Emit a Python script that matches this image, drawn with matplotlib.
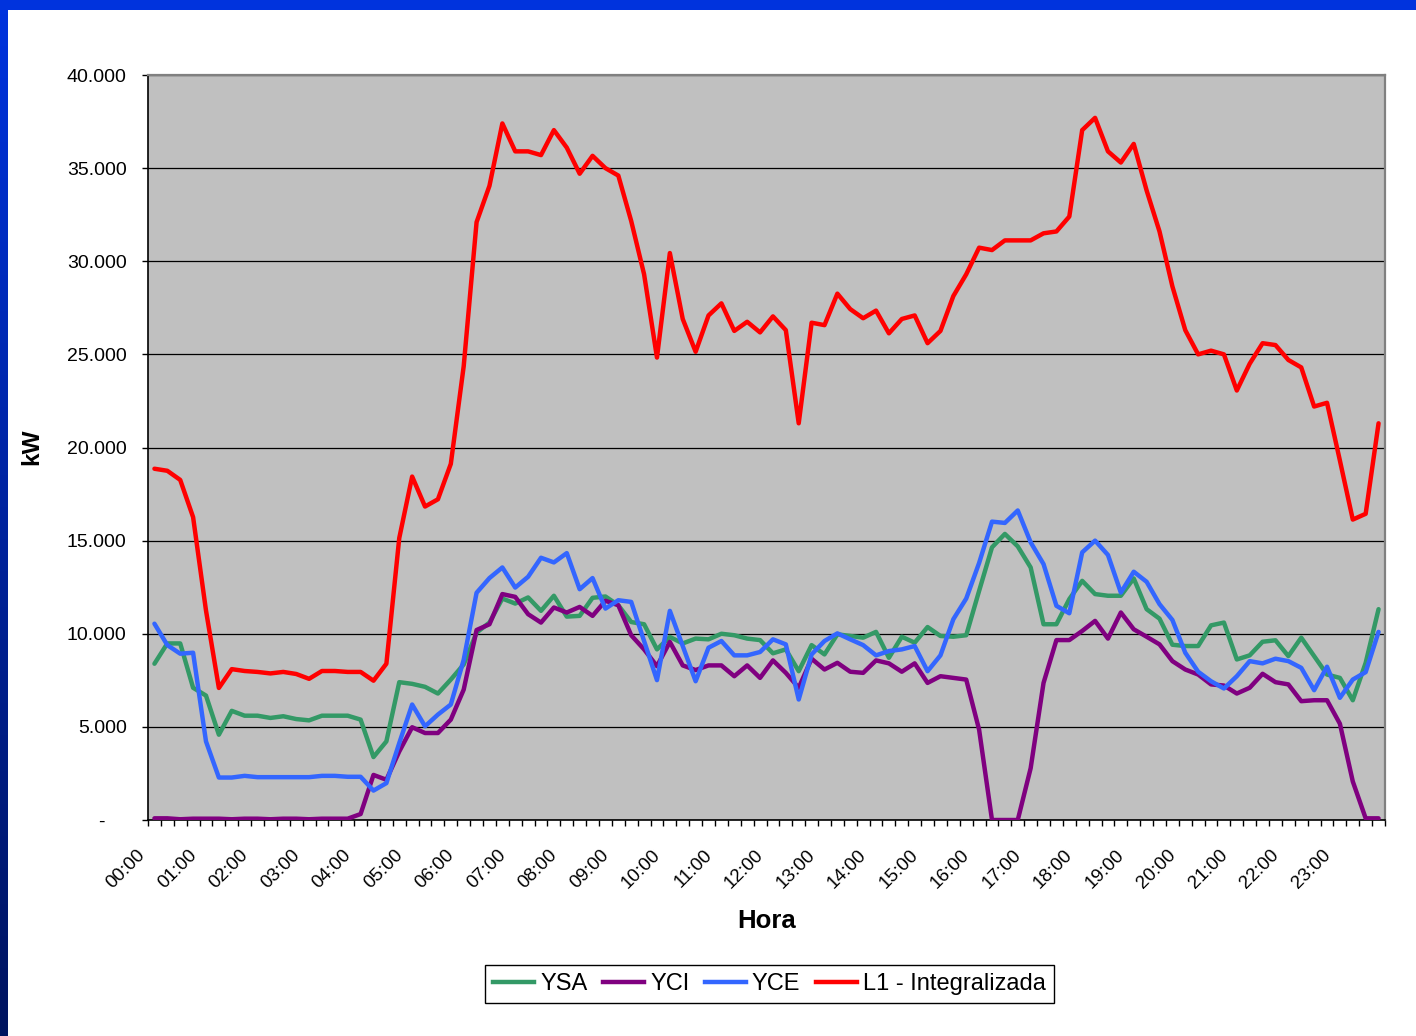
import numpy as np
import matplotlib
matplotlib.use("Agg")
import matplotlib.pyplot as plt
from matplotlib.patches import Rectangle
from matplotlib.transforms import ScaledTranslation
from matplotlib.lines import Line2D

plt.rcParams['font.family'] = ['Liberation Sans', 'DejaVu Sans']

# ---- data (kW, thousands) ----
times = [f"{h:02d}:{m:02d}" for h in range(24) for m in (0, 15, 30, 45)]

ysa = [8.39, 9.48, 9.48, 7.10, 6.68, 4.58, 5.86, 5.60, 5.60, 5.48, 5.57, 5.42, 5.35, 5.60, 5.60, 5.60, 5.39, 3.38, 4.22, 7.40, 7.31, 7.15, 6.79, 7.54,
       8.35, 10.06, 10.60, 11.89, 11.62, 11.95, 11.23, 12.04, 10.92, 10.96, 11.93, 12.00, 11.53, 10.63, 10.51, 9.16, 9.83, 9.48, 9.74, 9.70, 10.00, 9.92, 9.74, 9.66,
       8.95, 9.16, 7.99, 9.39, 8.89, 9.97, 9.88, 9.79, 10.10, 8.71, 9.84, 9.52, 10.36, 9.88, 9.84, 9.92, 12.30, 14.64, 15.36, 14.69, 13.56, 10.51, 10.51, 11.86,
       12.84, 12.13, 12.04, 12.04, 12.97, 11.32, 10.81, 9.41, 9.34, 9.34, 10.45, 10.60, 8.62, 8.84, 9.57, 9.65, 8.80, 9.79, 8.80, 7.81, 7.63, 6.43, 8.44, 11.32]

yci = [0.09, 0.09, 0.04, 0.07, 0.07, 0.07, 0.04, 0.07, 0.07, 0.04, 0.07, 0.07, 0.04, 0.07, 0.07, 0.07, 0.32, 2.42, 2.16, 3.68, 4.98, 4.67, 4.67, 5.39,
       7.00, 10.20, 10.51, 12.13, 11.98, 11.05, 10.60, 11.41, 11.14, 11.44, 10.96, 11.77, 11.53, 9.92, 9.16, 8.26, 9.56, 8.30, 8.05, 8.30, 8.30, 7.72, 8.30, 7.63,
       8.57, 7.90, 7.10, 8.66, 8.08, 8.44, 7.96, 7.90, 8.57, 8.41, 7.96, 8.41, 7.36, 7.72, 7.63, 7.54, 4.85, 0.00, 0.00, 0.00, 2.78, 7.36, 9.66, 9.66,
       10.15, 10.69, 9.74, 11.14, 10.24, 9.84, 9.43, 8.53, 8.08, 7.81, 7.28, 7.22, 6.79, 7.10, 7.85, 7.40, 7.28, 6.38, 6.43, 6.43, 5.17, 2.07, 0.09, 0.09]

yce = [10.54, 9.39, 8.93, 8.98, 4.22, 2.28, 2.28, 2.37, 2.30, 2.30, 2.30, 2.30, 2.30, 2.37, 2.37, 2.32, 2.32, 1.58, 1.98, 4.13, 6.20, 5.03, 5.66, 6.20,
       8.60, 12.20, 12.99, 13.56, 12.48, 13.06, 14.08, 13.83, 14.33, 12.39, 12.99, 11.35, 11.80, 11.71, 9.61, 7.51, 11.23, 9.34, 7.45, 9.25, 9.61, 8.84, 8.84, 9.02,
       9.70, 9.43, 6.47, 8.89, 9.61, 10.02, 9.70, 9.39, 8.84, 9.07, 9.16, 9.34, 7.99, 8.84, 10.78, 11.89, 13.80, 16.02, 15.95, 16.62, 14.91, 13.74, 11.50, 11.10,
       14.37, 15.00, 14.23, 12.21, 13.33, 12.79, 11.59, 10.74, 8.98, 7.96, 7.45, 7.06, 7.72, 8.53, 8.41, 8.66, 8.53, 8.17, 6.97, 8.23, 6.56, 7.54, 7.94, 10.10]

l1 = [18.86, 18.75, 18.26, 16.26, 11.25, 7.09, 8.10, 8.00, 7.95, 7.87, 7.95, 7.84, 7.58, 8.00, 8.00, 7.95, 7.95, 7.48, 8.39, 15.14, 18.44, 16.83, 17.22, 19.12,
      24.36, 32.10, 34.05, 37.40, 35.90, 35.90, 35.70, 37.04, 36.10, 34.70, 35.66, 35.00, 34.60, 32.16, 29.30, 24.83, 30.44, 26.90, 25.14, 27.09, 27.74, 26.26, 26.75, 26.18,
      27.04, 26.30, 21.30, 26.70, 26.57, 28.26, 27.43, 26.94, 27.35, 26.13, 26.90, 27.09, 25.60, 26.26, 28.13, 29.30, 30.73, 30.60, 31.12, 31.12, 31.12, 31.50, 31.60, 32.40,
      37.04, 37.70, 35.90, 35.30, 36.30, 33.80, 31.60, 28.65, 26.30, 25.00, 25.20, 25.00, 23.06, 24.50, 25.60, 25.50, 24.70, 24.30, 22.20, 22.40, 19.30, 16.13, 16.44, 21.30]

series_names = ["YSA", "YCI", "YCE", "L1 - Integralizada"]
series_colors = ["#339966", "#800080", "#3366FF", "#FF0000"]
yticks = [0, 5000, 10000, 15000, 20000, 25000, 30000, 35000, 40000]

# ---- figure ----
W, H = 1416, 1036
fig = plt.figure(figsize=(W / 100, H / 100), dpi=100)
fig.patch.set_facecolor("white")

# blue frame (top bar + left gradient strip)
fig.add_artist(Rectangle((0, 1 - 10 / H), 1, 10 / H, transform=fig.transFigure,
                         facecolor="#0033DD", edgecolor="none", zorder=5))
lax = fig.add_axes([0, 0, 7 / W, 1 - 10 / H])
grad = np.linspace(0, 1, 256).reshape(-1, 1)
top_c = np.array([0, 51, 221]) / 255
bot_c = np.array([0, 20, 95]) / 255
img = (bot_c[None, None, :] * (1 - grad[..., None]) + top_c[None, None, :] * grad[..., None])
lax.imshow(img, aspect="auto", origin="lower", extent=[0, 1, 0, 1])
lax.axis("off")

ax = fig.add_axes([148 / W, 1 - 820 / H, (1385 - 148) / W, (820 - 75) / H])
ax.set_facecolor("#C0C0C0")

x = np.arange(len(times))
for vals, name, col in zip([ysa, yci, yce, l1], series_names, series_colors):
    ax.plot(x, np.array(vals) * 1000, color=col, lw=3.2, label=name,
            solid_joinstyle="round", solid_capstyle="round", zorder=3)

ax.set_xlim(-0.5, len(times) - 0.5)
ax.set_ylim(0, 40000)

ax.set_yticks(yticks)
ax.set_yticklabels(["-" if v == 0 else f"{v:,.0f}".replace(",", ".") for v in yticks],
                   fontsize=14)
ax.yaxis.grid(True, color="black", lw=0.9, zorder=1)
ax.set_axisbelow(True)
ax.tick_params(axis="y", direction="out", length=4.3, width=1, pad=11, colors="black")

ax.set_xticks(x[::4])
ax.set_xticklabels(times[::4], rotation=45, ha="right", va="top", fontsize=13.5)
ax.set_xticks(np.arange(-0.5, len(times), 1), minor=True)
ax.tick_params(axis="x", which="major", length=0, pad=19)
ax.tick_params(axis="x", which="minor", direction="out", length=4.3, width=1, color="black")

off = ScaledTranslation(-6 / 100, 0, fig.dpi_scale_trans)
for lab in ax.get_xticklabels():
    lab.set_transform(lab.get_transform() + off)
# dash for zero sits further left (accounting format)
t0 = ax.yaxis.get_major_ticks()[0]
t0.label1.set_transform(t0.label1.get_transform() + ScaledTranslation(-22 / 100, 0, fig.dpi_scale_trans))

for s in ["left", "bottom"]:
    ax.spines[s].set_color("black")
    ax.spines[s].set_linewidth(1.2)
for s in ["top", "right"]:
    ax.spines[s].set_color("#808080")
    ax.spines[s].set_linewidth(1.6)

fig.text(32 / W, 1 - 447 / H, "kW", rotation=90, ha="center", va="center",
         fontsize=17.5, fontweight="bold")
fig.text(767 / W, 1 - 921 / H, "Hora", ha="center", va="center",
         fontsize=18.5, fontweight="bold")

handles = [Line2D([], [], color=c, lw=3.2) for c in series_colors]
leg = fig.legend(handles, series_names, loc="center",
                 bbox_to_anchor=(769.5 / W, 1 - 984 / H), ncol=4, fontsize=17,
                 frameon=True, fancybox=False, edgecolor="black", framealpha=1,
                 handlelength=1.75, handletextpad=0.25, columnspacing=0.65,
                 borderpad=0.35, borderaxespad=0)
leg.get_frame().set_linewidth(1.0)

fig.savefig("out.png", dpi=100)
